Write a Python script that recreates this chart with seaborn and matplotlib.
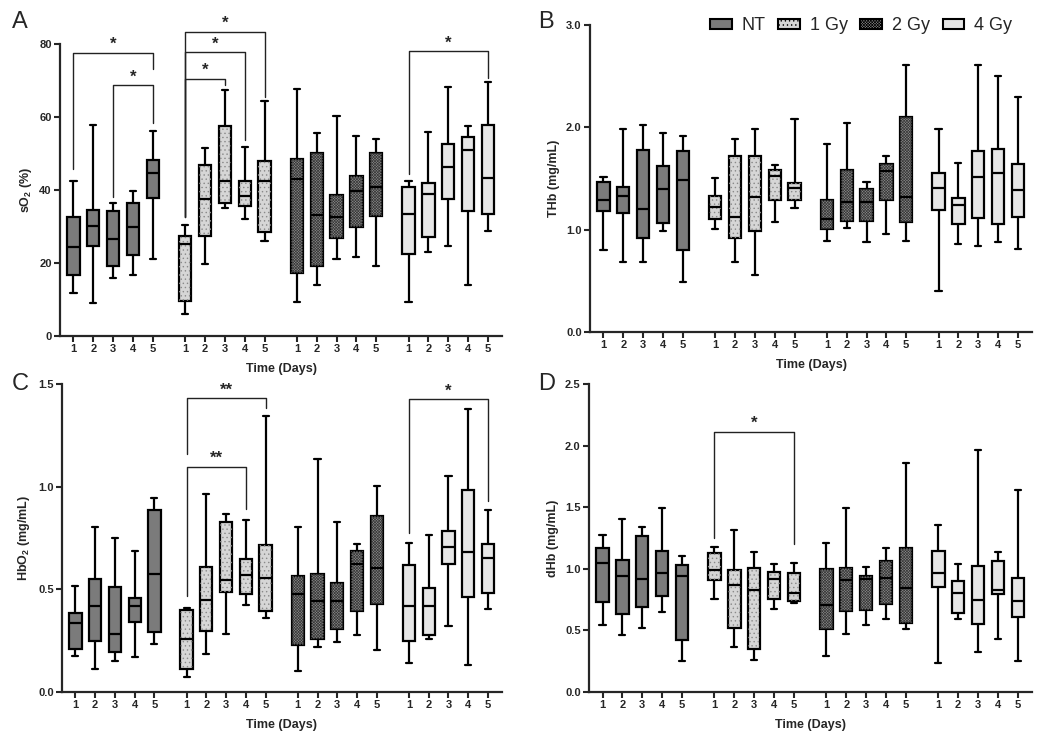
import numpy as np
import pandas as pd
import matplotlib
matplotlib.use("Agg")
import matplotlib.pyplot as plt
import seaborn as sns
from matplotlib.patches import Patch, PathPatch

# ---------------- data ----------------
groups = ["NT", "1 Gy", "2 Gy", "4 Gy"]
days = [1, 2, 3, 4, 5]
day_labels = ["1", "2", "3", "4", "5"]

# five-number summaries per day: [min, q1, median, q3, max]
so2_nt = [[11.9, 16.7, 24.3, 32.5, 42.6], [9.0, 24.7, 30.2, 34.4, 57.7], [16.0, 19.2, 26.7, 34.2, 36.5],
          [16.8, 22.2, 29.8, 36.5, 39.7], [21.1, 37.8, 44.7, 48.1, 56.3]]
so2_1gy = [[5.9, 9.5, 25.3, 27.4, 30.3], [19.7, 27.4, 37.4, 46.8, 51.5], [35.0, 36.4, 42.6, 57.6, 67.3],
           [32.1, 35.5, 38.4, 42.6, 51.8], [25.9, 28.5, 42.6, 48.0, 64.4]]
so2_2gy = [[9.4, 17.3, 43.0, 48.5, 67.6], [14.1, 19.2, 33.2, 50.0, 55.6], [21.2, 26.9, 32.6, 38.7, 60.3],
           [21.7, 29.8, 39.6, 43.8, 54.9], [19.3, 33.0, 40.9, 50.0, 54.1]]
so2_4gy = [[9.4, 22.6, 33.4, 40.8, 42.6], [22.9, 27.0, 38.8, 41.8, 55.8], [24.7, 37.4, 46.3, 52.7, 68.2],
           [13.9, 34.2, 51.0, 54.5, 57.4], [28.8, 33.4, 43.3, 57.9, 69.6]]

thb_nt = [[0.80, 1.185, 1.286, 1.461, 1.51], [0.68, 1.162, 1.325, 1.416, 1.98], [0.68, 0.922, 1.201, 1.779, 2.02],
          [0.99, 1.065, 1.399, 1.627, 1.948], [0.484, 0.80, 1.49, 1.77, 1.92]]
thb_1gy = [[1.003, 1.107, 1.218, 1.331, 1.506], [0.68, 0.916, 1.123, 1.724, 1.883], [0.558, 0.99, 1.315, 1.721, 1.984],
           [1.078, 1.286, 1.523, 1.581, 1.633], [1.214, 1.286, 1.409, 1.455, 2.081]]
thb_2gy = [[0.89, 1.01, 1.10, 1.286, 1.834], [1.016, 1.088, 1.266, 1.581, 2.04], [0.883, 1.084, 1.273, 1.393, 1.461],
           [0.955, 1.286, 1.575, 1.643, 1.717], [0.893, 1.071, 1.315, 2.104, 2.61]]
thb_4gy = [[0.396, 1.19, 1.403, 1.549, 1.98], [0.857, 1.055, 1.237, 1.312, 1.649], [0.841, 1.114, 1.519, 1.773, 2.61],
           [0.88, 1.055, 1.549, 1.789, 2.503], [0.815, 1.127, 1.386, 1.64, 2.292]]

hbo2_nt = [[0.176, 0.208, 0.335, 0.384, 0.515], [0.11, 0.247, 0.419, 0.549, 0.804], [0.153, 0.193, 0.283, 0.51, 0.748],
           [0.171, 0.34, 0.419, 0.458, 0.686], [0.236, 0.291, 0.574, 0.884, 0.946]]
hbo2_1gy = [[0.073, 0.11, 0.257, 0.401, 0.41], [0.185, 0.297, 0.447, 0.609, 0.964], [0.281, 0.488, 0.546, 0.826, 0.866],
            [0.424, 0.476, 0.570, 0.65, 0.839], [0.362, 0.393, 0.553, 0.715, 1.346]]
hbo2_2gy = [[0.10, 0.229, 0.478, 0.567, 0.803], [0.218, 0.257, 0.445, 0.575, 1.136], [0.244, 0.306, 0.442, 0.53, 0.827],
            [0.28, 0.393, 0.622, 0.687, 0.722], [0.203, 0.427, 0.606, 0.858, 1.001]]
hbo2_4gy = [[0.141, 0.247, 0.419, 0.618, 0.728], [0.257, 0.278, 0.419, 0.505, 0.764], [0.32, 0.622, 0.707, 0.783, 1.053],
            [0.133, 0.462, 0.681, 0.985, 1.377], [0.403, 0.484, 0.655, 0.723, 0.884]]

dhb_nt = [[0.542, 0.731, 1.045, 1.165, 1.278], [0.466, 0.637, 0.945, 1.07, 1.408], [0.52, 0.691, 0.916, 1.27, 1.338],
          [0.653, 0.78, 0.967, 1.146, 1.49], [0.255, 0.425, 0.94, 1.029, 1.10]]
dhb_1gy = [[0.758, 0.913, 0.994, 1.129, 1.178], [0.368, 0.523, 0.872, 0.994, 1.316], [0.26, 0.347, 0.826, 1.005, 1.14],
           [0.672, 0.753, 0.921, 0.975, 1.043], [0.723, 0.742, 0.804, 0.962, 1.048]]
dhb_2gy = [[0.29, 0.515, 0.71, 0.997, 1.208], [0.469, 0.655, 0.91, 1.005, 1.49], [0.547, 0.669, 0.916, 0.945, 1.016],
           [0.596, 0.715, 0.929, 1.064, 1.165], [0.509, 0.563, 0.845, 1.165, 1.861]]
dhb_4gy = [[0.236, 0.85, 0.962, 1.143, 1.352], [0.593, 0.645, 0.807, 0.897, 1.035], [0.325, 0.553, 0.748, 1.021, 1.961],
           [0.433, 0.794, 0.826, 1.067, 1.135], [0.252, 0.609, 0.739, 0.924, 1.639]]

# significance brackets: (group index, day from, day to, bar height, left leg end, right leg end, label)
so2_sig = [(0, 1, 5, 77.6, 45.8, 73.2, "*"), (0, 3, 5, 68.7, 38.1, 58.4, "*"),
           (1, 1, 5, 83.3, 32.6, 65.5, "*"), (1, 1, 4, 77.8, 32.6, 53.6, "*"),
           (1, 1, 3, 70.5, 32.6, 68.7, "*"), (3, 1, 5, 78.0, 44.5, 70.8, "*")]
thb_sig = []
hbo2_sig = [(1, 1, 5, 1.43, 1.157, 1.385, "**"), (1, 1, 4, 1.097, 0.468, 0.891, "**"),
            (3, 1, 5, 1.425, 0.775, 0.93, "*")]
dhb_sig = [(1, 1, 5, 2.113, 1.254, 1.205, "*")]

# ---------------- style ----------------
sns.set_style("ticks")
plt.rcParams["font.family"] = ["Liberation Sans", "DejaVu Sans"]
plt.rcParams["mathtext.fontset"] = "custom"
plt.rcParams["mathtext.rm"] = "Liberation Sans"
plt.rcParams["mathtext.bf"] = "Liberation Sans:bold"
plt.rcParams["hatch.linewidth"] = 0.5

FILL = {"NT": "#7b7b7b", "1 Gy": "#d6d6d6", "2 Gy": "#8c8c8c", "4 Gy": "#e6e6e6"}
HATCH = {"NT": None, "1 Gy": "....", "2 Gy": "xxxxxxxxxxxx", "4 Gy": None}
HCOL = {"1 Gy": "#8a8a8a", "2 Gy": "#3a3a3a"}
GROUP_STEP = 5.63
XLIM = (0.32, 22.6)

fig = plt.figure(figsize=(10.5, 7.45), dpi=100)


def draw_panel(rect, series, ylim, yticks, yfmt, ylabel, sigs):
    ax = fig.add_axes(rect)
    for gi, (g, summ) in enumerate(zip(groups, series)):
        rows = []
        for di, five in enumerate(summ):
            for v in five:
                rows.append({"pos": gi * GROUP_STEP + days[di], "value": v})
        df = pd.DataFrame(rows)
        n0 = len(ax.patches)
        sns.boxplot(data=df, x="pos", y="value", native_scale=True, color=FILL[g],
                    saturation=1, width=0.62, whis=(0, 100), linecolor="black",
                    linewidth=1.6, fliersize=0, ax=ax)
        new = list(ax.patches[n0:])
        if HATCH[g]:
            for p in new:
                ov = PathPatch(p.get_path(), transform=p.get_transform(), facecolor="none",
                               edgecolor=HCOL[g], lw=0, hatch=HATCH[g], zorder=p.get_zorder() + 0.05)
                ax.add_patch(ov)
    positions = [gi * GROUP_STEP + d for gi in range(len(groups)) for d in days]
    ax.set_xticks(positions)
    ax.set_xticklabels(day_labels * len(groups))
    ax.set_xlim(*XLIM)
    ax.set_ylim(*ylim)
    ax.set_yticks(yticks)
    ax.set_yticklabels([yfmt.format(t) for t in yticks])
    ax.tick_params(axis="both", direction="out", length=4, width=1.5, labelsize=8, pad=2)
    for lbl in ax.get_xticklabels() + ax.get_yticklabels():
        lbl.set_fontweight("bold")
    sns.despine(ax=ax)
    for s in ("left", "bottom"):
        ax.spines[s].set_linewidth(1.6)
    ax.set_xlabel("Time (Days)", fontsize=9, fontweight="bold", labelpad=6)
    ax.set_ylabel(ylabel, fontsize=9, fontweight="bold", labelpad=4)
    for gi, d1, d2, yb, yl, yr, lab in sigs:
        x1 = gi * GROUP_STEP + d1
        x2 = gi * GROUP_STEP + d2
        ax.plot([x1, x1, x2, x2], [yl, yb, yb, yr], color="#222222", lw=1.0, clip_on=False)
        ax.annotate(lab, ((x1 + x2) / 2, yb), xytext=(0, 0.5), textcoords="offset points",
                    ha="center", va="bottom", fontsize=12, fontweight="bold", annotation_clip=False)
    return ax


W = 1050.0
H = 745.0


def rect(l, r, t, b):
    return [l / W, 1 - b / H, (r - l) / W, (b - t) / H]


axA = draw_panel(rect(60, 502, 44, 336), [so2_nt, so2_1gy, so2_2gy, so2_4gy], (0, 80),
                 [0, 20, 40, 60, 80], "{:.0f}", r"sO$_\mathbf{2}$ (%)", so2_sig)
axB = draw_panel(rect(590, 1032, 25, 332), [thb_nt, thb_1gy, thb_2gy, thb_4gy], (0, 3),
                 [0, 1, 2, 3], "{:.1f}", "THb (mg/mL)", thb_sig)
axC = draw_panel(rect(62, 502, 384, 692), [hbo2_nt, hbo2_1gy, hbo2_2gy, hbo2_4gy], (0, 1.5),
                 [0, 0.5, 1.0, 1.5], "{:.1f}", r"HbO$_\mathbf{2}$ (mg/mL)", hbo2_sig)
axD = draw_panel(rect(589, 1032, 384, 692), [dhb_nt, dhb_1gy, dhb_2gy, dhb_4gy], (0, 2.5),
                 [0, 0.5, 1.0, 1.5, 2.0, 2.5], "{:.1f}", "dHb (mg/mL)", dhb_sig)

for letter, x, y in [("A", 12, 22), ("B", 538, 22), ("C", 12, 384), ("D", 538, 384)]:
    fig.text(x / W, 1 - y / H, letter, fontsize=17, ha="left", va="center")

handles = [Patch(facecolor=FILL[g], edgecolor="black", linewidth=1.5,
                 hatch=HATCH[g] if HATCH[g] else None) for g in groups]
fig.legend(handles, groups, loc="center", bbox_to_anchor=(861 / W, 1 - 26 / H), ncol=4,
           frameon=False, fontsize=13, handlelength=1.2, handleheight=0.5,
           columnspacing=0.7, handletextpad=0.55, borderpad=0.2)

fig.savefig("out.png", dpi=100)
